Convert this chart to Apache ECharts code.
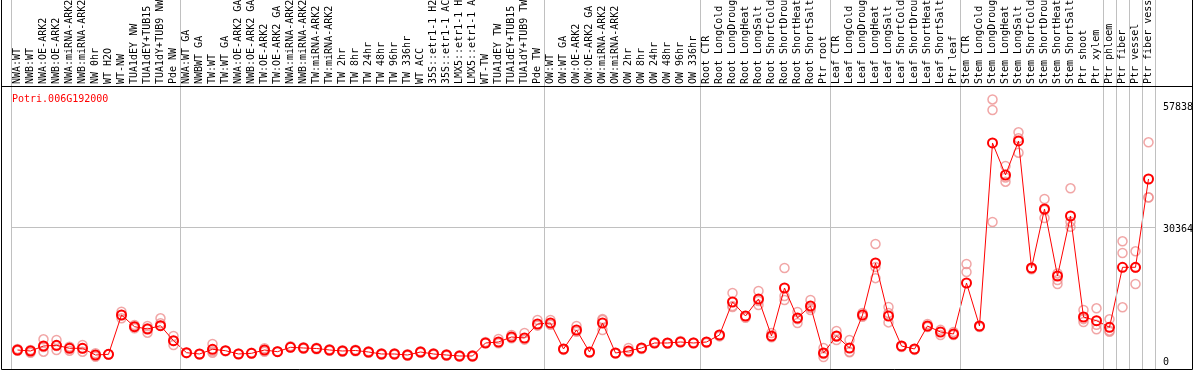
<!DOCTYPE html>
<html>
<head>
<meta charset="utf-8">
<script src="https://cdn.jsdelivr.net/npm/echarts@6/dist/echarts.min.js"></script>
<style>
  html, body { margin: 0; padding: 0; background: #fff; }
  #chart { width: 1194px; height: 370px; }
</style>
</head>
<body>
<div id="chart"></div>
<script>
const geneId = 'Potri.006G192000';

const categories = [
  'NWA:WT', 'NWB:WT', 'NWA:OE-ARK2', 'NWB:OE-ARK2', 'NWA:miRNA-ARK2', 'NWB:miRNA-ARK2',
  'NW 0hr', 'WT H2O', 'WT-NW', 'TUA1dEY NW', 'TUA1dEY+TUB15 NW', 'TUA1dY+TUB9 NW', 'Pde NW',
  'NWA:WT GA', 'NWBWT GA', 'TW:WT', 'TW:WT GA', 'NWA:OE-ARK2 GA', 'NWB:OE-ARK2 GA',
  'TW:OE-ARK2', 'TW:OE-ARK2 GA', 'NWA:miRNA-ARK2 GA', 'NWB:miRNA-ARK2 GA', 'TW:miRNA-ARK2',
  'TW:miRNA-ARK2 GA', 'TW 2hr', 'TW 8hr', 'TW 24hr', 'TW 48hr', 'TW 96hr', 'TW 336hr', 'WT ACC',
  '35S::etr1-1 H2O', '35S::etr1-1 ACC', 'LMX5::etr1-1 H2O', 'LMX5::etr1-1 ACC', 'WT-TW',
  'TUA1dEY TW', 'TUA1dEY+TUB15 TW', 'TUA1dY+TUB9 TW', 'Pde TW',
  'OW:WT', 'OW:WT GA', 'OW:OE-ARK2', 'OW:OE-ARK2 GA', 'OW:miRNA-ARK2', 'OW:miRNA-ARK2 GA',
  'OW 2hr', 'OW 8hr', 'OW 24hr', 'OW 48hr', 'OW 96hr', 'OW 336hr',
  'Root CTR', 'Root LongCold', 'Root LongDrought', 'Root LongHeat', 'Root LongSalt',
  'Root ShortCold', 'Root ShortDrought', 'Root ShortHeat', 'Root ShortSalt', 'Ptr root',
  'Leaf CTR', 'Leaf LongCold', 'Leaf LongDrought', 'Leaf LongHeat', 'Leaf LongSalt',
  'Leaf ShortCold', 'Leaf ShortDrought', 'Leaf ShortHeat', 'Leaf ShortSalt', 'Ptr leaf',
  'Stem CTR', 'Stem LongCold', 'Stem LongDrought', 'Stem LongHeat', 'Stem LongSalt',
  'Stem ShortCold', 'Stem ShortDrought', 'Stem ShortHeat', 'Stem ShortSalt', 'Ptr shoot', 'Ptr xylem',
  'Ptr phloem', 'Ptr fiber', 'Ptr vessel', 'Ptr fiber vessel',
];

// first index of each sample group (plus the end)
const groupStarts = [0, 13, 41, 53, 63, 73, 84, 85, 86, 87, 88];

const meanValues = [
  4077, 3863, 4936, 5086, 4442, 4442, 3004, 3155, 11588, 9078, 8584, 9292, 6073,
  3498, 3219, 4228, 3927, 3219, 3369, 4077, 3713, 4657, 4507, 4400, 4077, 3863, 3970,
  3648, 3219, 3219, 3004, 3648, 3219, 3004, 2790, 2790, 5580, 5794, 6867, 6653, 9657,
  9872, 4292, 8369, 3648, 9872, 3434, 3863, 4507, 5580, 5580, 5794, 5580,
  5794, 7296, 14378, 11374, 15022, 7082, 17383, 10945, 13520, 3434,
  7082, 4507, 11588, 22748, 11374, 4936, 4292, 9228, 7940, 7511,
  18456, 9228, 48500, 41632, 48929, 21675, 34336, 19958, 32834, 11159, 10365,
  8949, 21825, 21825, 40774,
];

const replicateValues = [
  [4300, 3900], [3498, 4077, 4000], [6374, 3713, 4720], [6223, 4077, 4950],
  [4786, 3927, 4600], [5150, 3713, 4450], [3369, 2640, 3000], [3155, 3100],
  [12296, 10880, 11590], [9442, 8734, 9060], [9228, 7790, 8730], [10880, 9807, 9300],
  [7082, 5150, 6000],
  [3498, 3400], [3219, 3100], [5365, 3498, 3800], [3927, 3800], [3219, 3300], [3369, 3500],
  [4442, 3713, 4077], [3713, 3800], [4657, 4900], [4650, 4350], [4550, 4250], [4220, 3930],
  [4010, 3720], [4120, 3820], [3790, 3500], [3360, 3080], [3360, 3080], [3150, 2860],
  [3790, 3500], [3360, 3080], [3150, 2860], [2930, 2650], [2930, 2650], [5580, 5800],
  [6438, 5500], [7296, 6600], [7725, 6300], [10515, 9300],
  [10515, 9500], [4292, 4100], [9228, 8000], [3648, 3500], [10730, 8369, 10500], [3434, 3300],
  [4507, 3600], [4507, 4300], [5580, 5800], [5580, 5400], [5794, 6000], [5580, 5700],
  [5794, 5600], [7296, 7000], [16310, 13305, 13500], [11374, 11000], [16739, 13734, 14600],
  [7725, 6800], [21675, 15666, 14800], [12232, 9872, 10700], [14807, 12661, 13100],
  [4507, 2575, 3200],
  [8155, 6223, 6900], [6223, 3700, 3600], [12017, 11200], [26825, 21889, 19500],
  [13305, 12017, 10000], [4936, 4700], [4292, 4100], [9657, 9000], [7296, 8400], [7940, 7300],
  [22533, 20816], [9228, 9000], [57838, 55581, 31546], [43564, 40194, 41100],
  [50796, 46417, 49500], [21675, 21400], [36482, 32405, 34100], [19100, 18241, 20500],
  [38778, 31610, 30500], [12661, 10086, 10700], [13026, 8520, 9500],
  [10665, 8219, 8000], [27404, 24894, 13240], [25258, 18241, 21750], [48650, 36846, 36800],
];

const yLabelValues = [0, 30364, 57838];
const yMax = 60728;

const replicatePoints = [];
replicateValues.forEach((reps, i) => {
  reps.forEach((v) => replicatePoints.push([i, v]));
});

const mono = 'DejaVu Sans Mono';
const isSeparator = (idx) => groupStarts.indexOf(idx) >= 0;
const sepLine = { show: true, interval: isSeparator, lineStyle: { color: '#c0c0c0', width: 1 } };

const chart = echarts.init(document.getElementById('chart'));
const option = {
  animation: false,
  title: {
    text: geneId,
    left: 7,
    top: 89,
    textStyle: { color: '#ff0000', fontFamily: mono, fontSize: 10, fontWeight: 'normal' },
  },
  grid: [
    { left: 11, right: 39, top: 86, bottom: 1, outerBoundsMode: 'none', containLabel: false },
    // label strip above the plot, only used for the group separators
    { left: 11, right: 39, top: 0, height: 86, outerBoundsMode: 'none', containLabel: false },
  ],
  xAxis: [
    {
      type: 'category',
      position: 'top',
      data: categories,
      boundaryGap: true,
      axisLine: { show: false },
      axisTick: { show: false },
      splitLine: sepLine,
      axisLabel: {
        interval: 0,
        rotate: 90,
        margin: 2,
        color: '#000',
        fontFamily: mono,
        fontSize: 10,
      },
      z: 5,
    },
    {
      type: 'category',
      gridIndex: 1,
      data: categories,
      boundaryGap: true,
      axisLine: { show: false },
      axisTick: { show: false },
      axisLabel: { show: false },
      splitLine: sepLine,
    },
  ],
  yAxis: [
    {
      type: 'value',
      position: 'right',
      min: 0,
      max: yMax,
      interval: 30364,
      axisLine: { show: false },
      axisTick: { show: false },
      splitLine: { show: true, lineStyle: { color: '#c0c0c0', width: 1 } },
      axisLabel: {
        customValues: yLabelValues,
        margin: 8,
        color: '#000',
        fontFamily: mono,
        fontSize: 10,
        formatter(v) {
          if (v === 0) return '{b|0}';
          if (v === 57838) return '{t|57838}';
          return '{m|' + v + '}';
        },
        rich: {
          t: { fontFamily: mono, fontSize: 10, padding: [15, 0, 0, 0] },
          m: { fontFamily: mono, fontSize: 10, padding: [4, 0, 0, 0] },
          b: { fontFamily: mono, fontSize: 10, padding: [0, 0, 14, 0] },
        },
      },
    },
    {
      type: 'value',
      gridIndex: 1,
      show: false,
      splitLine: { show: false },
    },
  ],
  graphic: [
    {
      type: 'rect',
      shape: { x: 1.5, y: -1, width: 1191, height: 370.5 },
      style: { fill: 'none', stroke: '#000', lineWidth: 1 },
      z: 100,
    },
    {
      type: 'line',
      shape: { x1: 1, y1: 86.5, x2: 1193, y2: 86.5 },
      style: { stroke: '#000', lineWidth: 1 },
      z: 100,
    },
  ],
  series: [
    {
      name: 'replicates',
      type: 'scatter',
      data: replicatePoints,
      symbol: 'circle',
      symbolSize: 9,
      itemStyle: { color: 'rgba(0,0,0,0)', borderColor: '#ee9090', borderWidth: 1.5 },
      z: 2,
    },
    {
      name: 'mean',
      type: 'line',
      data: meanValues,
      symbol: 'circle',
      symbolSize: 9,
      lineStyle: { color: '#ff0000', width: 1 },
      itemStyle: { color: 'rgba(0,0,0,0)', borderColor: '#ff0000', borderWidth: 2 },
      z: 3,
    },
  ],
};
chart.setOption(option);
</script>
</body>
</html>
